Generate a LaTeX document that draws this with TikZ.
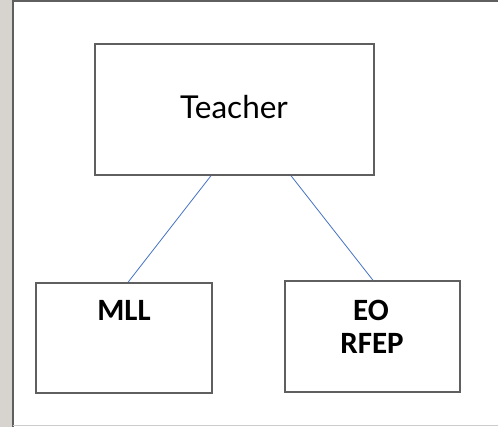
\documentclass[tikz,border=0pt]{standalone}
\usepackage{fontspec}
\newfontfamily\teacherfont{Lato}
\newfontfamily\groupfont{Carlito}
\usetikzlibrary{positioning}
\definecolor{sidegray}{HTML}{D7D3CE}
\definecolor{framegray}{HTML}{5F5F5F}
\definecolor{linkblue}{HTML}{4472C4}

\begin{document}
\begin{tikzpicture}[x=1pt,y=-1pt,
		box/.style={draw=framegray, line width=1.4pt, inner sep=0pt},
		grouplabel/.style={anchor=base, inner sep=0pt, font=\groupfont\bfseries\fontsize{31}{31}\selectfont},
		link/.style={draw=linkblue, line width=0.8pt}]
				\useasboundingbox (0,0) rectangle (498,427);
				% page frame
				\fill[sidegray] (0,0) rectangle (12,427);
				\draw[framegray, line width=2pt] (12.5,427) -- (12.5,1.5) -- (498,1.5);
				\draw[gray!40, line width=1pt] (12.5,425.5) -- (498,425.5);
				
				\node[box, minimum width=279pt, minimum height=131pt] (T) at (234.5,109.5) {};
				\node[box, minimum width=176pt, minimum height=110pt] (M) at (124,338) {};
				\node[box, minimum width=175pt, minimum height=111pt] (E) at (372.5,336.5) {};
				
				\node[anchor=base, inner sep=0pt, font=\teacherfont\fontsize{31.5}{31.5}\selectfont] (teacher) at (234,119) {Teacher};
				\node[grouplabel] (mll) at (124,321) {MLL};
				\node[grouplabel] (eo) at (371,321) {EO};
				\node[grouplabel] (rfep) at (372,354) {RFEP};
				
				\draw[link] ([xshift=-23.5pt]T.south) -- ([xshift=4pt]M.north);
				\draw[link] ([xshift=56.5pt]T.south) -- ([xshift=0.5pt]E.north);
			\end{tikzpicture}
\end{document}
